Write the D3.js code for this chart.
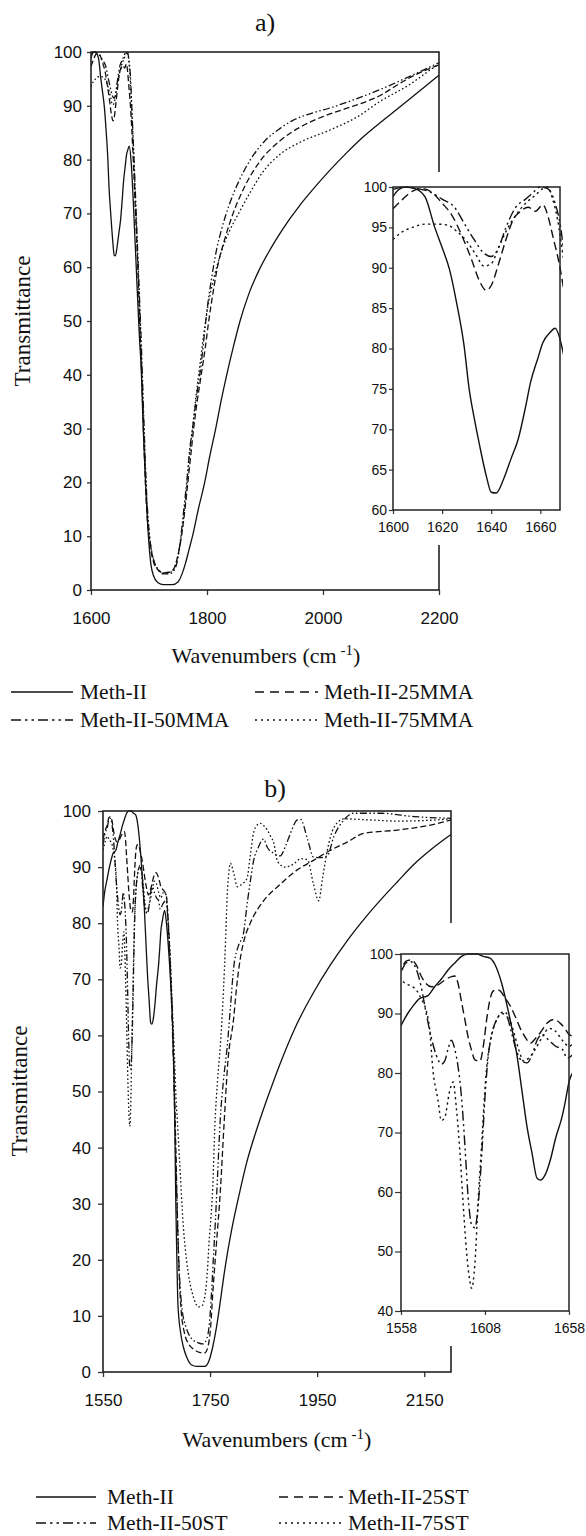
<!DOCTYPE html>
<html><head><meta charset="utf-8">
<script src="https://cdn.jsdelivr.net/npm/d3@7"></script>
<style>body{margin:0;background:#fff}</style>
</head><body>
<svg id="c" width="586" height="1536" xmlns="http://www.w3.org/2000/svg"></svg>
<script>
// ---------- DATA (wavenumber, transmittance) ----------
const A_NAMES = ["Meth-II", "Meth-II-25MMA", "Meth-II-50MMA", "Meth-II-75MMA"];
const B_NAMES = ["Meth-II", "Meth-II-25ST", "Meth-II-50ST", "Meth-II-75ST"];
const A_X_TICKS = [1600, 1800, 2000, 2200];
const B_X_TICKS = [1550, 1750, 1950, 2150];
const Y_TICKS = [0, 10, 20, 30, 40, 50, 60, 70, 80, 90, 100];
const A_INSET_X_TICKS = [1600, 1620, 1640, 1660];
const A_INSET_Y_TICKS = [60, 65, 70, 75, 80, 85, 90, 95, 100];
const B_INSET_X_TICKS = [1558, 1608, 1658];
const B_INSET_Y_TICKS = [40, 50, 60, 70, 80, 90, 100];

const A_METH_II = [[1600,98.8],[1602,99.6],[1605,100],[1609,99.8],[1613,98.8],[1617,95],[1620,92.5],[1623,89.8],[1626,85.5],[1629,80.2],[1631,75],[1633,71.5],[1635,68.4],[1638,64.2],[1640,62.2],[1642,62.1],[1645,63.8],[1648,66.3],[1651,68.8],[1654,72.8],[1656,75.8],[1659,78.8],[1661,80.7],[1664,82],[1666,82.5],[1669,79.9],[1673,72],[1678,60],[1683,48],[1687,40],[1690,30],[1694,20],[1699,10],[1703,5],[1708,2.6],[1715,1.4],[1725,1],[1740,1],[1750,1.5],[1757,3],[1763,5],[1769,7.5],[1775,10],[1785,15],[1796,20],[1805,25],[1815,30],[1824,35],[1834,40],[1845,45],[1857,50],[1872,55],[1890,59.5],[1910,63.5],[1930,67],[1960,71.5],[1983,74.5],[2010,77.8],[2041,81.3],[2070,84.3],[2100,87],[2127,89.3],[2150,91.3],[2175,93.5],[2200,95.7]];
const A_25MMA = [[1600,97.3],[1604,98.5],[1608,99.5],[1612,99.8],[1616,99.3],[1620,98],[1624,96.5],[1628,94],[1632,91],[1635,88.5],[1638,87.2],[1640,87.8],[1643,90.5],[1646,93.5],[1649,96],[1652,97],[1655,97.5],[1658,97],[1661,97.8],[1663,96.5],[1665,94],[1668,90],[1672,82],[1676,72],[1680,62],[1684,50],[1688,38],[1692,25],[1696,15],[1701,9],[1707,5.5],[1715,3.8],[1725,3.2],[1735,3.3],[1743,4],[1750,6.5],[1756,10],[1762,15],[1767,20],[1772,25],[1777,30],[1783,35],[1790,40],[1797,45],[1803,50],[1810,55],[1818,60],[1830,65],[1845,70],[1865,75],[1890,79.5],[1926,83.5],[1960,86],[2000,88],[2040,89.5],[2070,90.6],[2100,92],[2130,94],[2160,95.8],[2200,97.6]];
const A_50MMA = [[1600,99.7],[1605,100],[1610,99.8],[1615,99.4],[1620,98.5],[1625,97.5],[1629,95.5],[1633,93.5],[1637,91.8],[1640,91.4],[1643,92.5],[1646,95],[1650,97.5],[1654,98.5],[1657,99.3],[1660,100],[1663,99.8],[1666,98],[1668,95.5],[1671,88],[1675,78],[1679,67],[1683,56],[1687,45],[1691,32],[1695,20],[1700,11],[1706,6.5],[1714,4],[1725,3],[1735,3],[1744,3.8],[1750,6],[1755,10],[1760,15],[1765,20],[1770,26],[1775,30],[1782,36],[1790,42],[1796,48],[1800,52],[1808,58],[1816,63],[1825,67],[1838,71.5],[1855,76],[1875,80],[1900,83.5],[1926,85.8],[1948,87.3],[1980,88.6],[2012,89.6],[2050,91],[2098,93],[2140,95],[2184,97.2],[2200,98]];
const A_75MMA = [[1600,93.5],[1604,94.5],[1608,95],[1613,95.4],[1618,95.4],[1622,95.3],[1626,94.5],[1630,93.3],[1634,91.5],[1637,90.2],[1640,90.5],[1643,92.5],[1646,94.5],[1650,96.5],[1654,98],[1658,99],[1661,99.8],[1663,100],[1665,98.5],[1667,96],[1669,92],[1672,85],[1676,74],[1680,63],[1684,52],[1688,40],[1692,28],[1696,17],[1701,10],[1707,6],[1715,4],[1725,3.2],[1735,3.2],[1745,4.5],[1752,7.5],[1758,12],[1764,18],[1769,24],[1775,30],[1781,36],[1788,42],[1795,48],[1802,53],[1812,58],[1825,63],[1840,67],[1857,70.5],[1875,74],[1895,77.5],[1926,81],[1960,83.2],[2012,85.5],[2060,88],[2098,90.8],[2150,94],[2184,96.6],[2200,97.8]];

const B_METH_II = [[1550,83],[1553,85.5],[1558,88],[1562,90],[1565,91.2],[1569,92.5],[1574,93],[1578,94.5],[1582,95.8],[1586,97.3],[1590,98.5],[1594,99.6],[1598,100],[1603,100],[1607,99.6],[1611,99.3],[1614,98.2],[1618,95],[1621,91.5],[1624,87.5],[1627,83],[1630,77],[1633,71],[1636,66.5],[1639,62.3],[1641,62],[1644,63],[1647,65.5],[1650,69],[1654,72.8],[1656,75.5],[1658,78.5],[1661,80.5],[1665,82.3],[1668,80.5],[1672,76],[1676,70],[1680,62],[1682,55],[1684,45],[1686,30],[1688,20],[1690,12],[1695,7],[1700,4.5],[1707,2.5],[1715,1.3],[1725,1],[1740,1],[1748,2],[1755,4.5],[1762,8],[1769,12.5],[1776,17.3],[1783,21.5],[1790,25.2],[1804,31.5],[1818,37.2],[1839,43.8],[1860,49.6],[1881,55],[1910,61.6],[1943,67.6],[1975,72.6],[2007,77],[2040,81],[2069,84.2],[2100,87.4],[2131,90.5],[2165,93.3],[2200,95.8]];
const B_25ST = [[1550,95],[1554,96.5],[1558,97.5],[1561,98.8],[1564,99],[1567,98.2],[1570,96.3],[1573,95],[1576,94.5],[1580,94.8],[1584,95.6],[1588,96.2],[1590,96.3],[1592,95],[1594,92],[1596,89],[1598,86],[1600,83.8],[1602,82.2],[1605,82],[1607,84.5],[1609,89],[1611,92.4],[1613,93.8],[1615,94],[1617,93.8],[1620,92.6],[1623,91.3],[1626,89.5],[1629,87.5],[1632,86],[1635,85],[1638,85.8],[1641,86.8],[1645,88.4],[1649,89],[1653,88.3],[1656,87.3],[1658,86.5],[1662,86],[1668,85],[1672,80],[1676,72],[1680,62],[1683,52],[1686,40],[1689,28],[1692,18],[1696,11],[1702,7],[1710,5],[1720,4],[1730,3.5],[1740,3.4],[1746,4.5],[1751,8],[1755,14],[1762,23],[1769,32],[1776,44],[1783,55],[1794,63],[1800,69],[1807,74],[1815,77.5],[1825,80],[1850,84],[1876,86.5],[1913,89.5],[1943,91.2],[1975,93],[2007,94.5],[2037,96],[2100,96.6],[2162,97.5],[2200,98.4]];
const B_50ST = [[1550,94],[1554,96],[1558,97],[1561,98.5],[1564,98.7],[1567,97.5],[1570,94.5],[1573,90],[1576,86],[1579,83],[1582,81.5],[1584,82],[1586,84],[1588,85.5],[1590,84],[1592,81],[1594,76],[1596,68],[1598,59],[1600,54.5],[1602,54],[1604,58],[1606,66],[1608,76],[1610,83],[1612,86.5],[1615,89],[1618,90],[1621,89.5],[1624,86.5],[1627,83.5],[1630,82],[1633,81.7],[1636,83],[1639,85.5],[1642,86.5],[1646,85.5],[1650,84.5],[1654,84],[1657,82.5],[1662,83.5],[1668,84],[1672,79],[1676,71],[1680,60],[1683,50],[1686,38],[1689,27],[1693,17],[1698,11],[1705,8],[1715,6],[1728,5.2],[1737,5],[1744,6],[1748,8],[1752,13],[1756,20],[1760,27],[1764,35],[1769,45],[1775,52],[1782,58],[1788,65],[1794,72],[1803,76],[1812,78],[1820,84],[1826,88],[1831,91],[1840,93.5],[1850,95],[1857,93.5],[1868,92.5],[1881,92],[1892,94],[1900,96],[1913,98.4],[1919,98.5],[1932,95],[1943,91.8],[1955,91.7],[1969,92],[1981,95.4],[2000,98.4],[2018,99.6],[2069,99.6],[2131,99],[2200,98.7]];
const B_75ST = [[1550,93],[1554,94.5],[1558,95.5],[1561,95],[1564,94.6],[1567,94],[1570,92.5],[1573,90.5],[1575,87.5],[1577,80.5],[1580,75.5],[1582,72],[1584,72.5],[1587,77],[1589,78.5],[1591,74],[1593,67],[1595,58],[1597,50],[1599,45],[1600,43.8],[1602,48],[1604,59],[1606,68],[1607,73],[1609,81],[1611,85],[1613,87.5],[1616,89.5],[1619,90.3],[1622,89.5],[1625,87],[1628,84],[1631,82],[1634,82.5],[1638,84],[1642,86],[1646,87.5],[1650,87],[1654,85.5],[1658,84.5],[1663,85.5],[1668,85],[1672,80],[1676,73],[1680,64],[1684,55],[1686,49.7],[1690,43],[1693,37.8],[1700,26],[1706,20],[1712,16],[1717,14],[1722,12.5],[1728,11.6],[1735,11.8],[1741,14],[1745,18],[1748,23],[1752,28],[1755,33],[1759,44],[1764,52],[1769,58],[1775,68],[1779,77],[1782,85],[1785,89],[1788,90.7],[1794,89],[1801,86.5],[1810,87],[1819,88],[1825,92],[1831,96],[1838,97.5],[1844,97.8],[1851,97.3],[1857,96.6],[1863,95.5],[1869,94.3],[1876,91],[1890,90],[1905,90.5],[1920,91.5],[1932,91.3],[1943,87],[1953,84],[1960,88],[1969,93],[1981,97],[2000,98.6],[2050,98.4],[2100,98.2],[2150,98.3],[2200,98.6]];

// ---------- STYLES ----------
const STYLES = [
  {plot: null, legend: null},
  {plot: "6,3", legend: "9,6"},
  {plot: "7,2.5,1.5,2.5,1.5,2.5", legend: "10,4,2.5,4,2.5,4"},
  {plot: "1.6,2.4", legend: "2,4"}
];
const INK = "#111";
const SANS = "'Liberation Sans', Arial, sans-serif";
const SERIF = "'Liberation Serif', 'Times New Roman', serif";

const svg = d3.select("#c");

function drawPanel(p) {
  const g = svg.append("g");
  const m = p.main;
  const x = d3.scaleLinear().domain(p.xDomain).range([m.left, m.right]);
  const y = d3.scaleLinear().domain([0, 100]).range([m.bottom, m.top]);
  const clipId = "clip-main-" + p.id;
  svg.append("clipPath").attr("id", clipId).append("rect")
    .attr("x", m.left).attr("y", m.top - 2).attr("width", m.right - m.left + 2).attr("height", m.bottom - m.top + 2);
  const line = d3.line().x(d => x(d[0])).y(d => y(d[1])).curve(d3.curveMonotoneX);
  const lg = g.append("g").attr("clip-path", `url(#${clipId})`);
  p.series.forEach((s, i) => {
    lg.append("path").attr("d", line(s)).attr("fill", "none").attr("stroke", INK)
      .attr("stroke-width", 1.3).attr("stroke-dasharray", STYLES[i].plot);
  });
  // axes
  const ax = g.append("g").attr("transform", `translate(0,${m.bottom})`)
    .call(d3.axisBottom(x).tickValues(p.xTicks).tickSize(5).tickSizeOuter(0).tickPadding(17).tickFormat(d3.format("d")));
  const ay = g.append("g").attr("transform", `translate(${m.left},0)`)
    .call(d3.axisLeft(y).tickValues(Y_TICKS).tickSize(p.yTickSize).tickSizeOuter(0).tickPadding(p.yTickPad));
  [ax, ay].forEach(a => {
    a.select(".domain").remove();
    a.selectAll("line").attr("stroke", "#333").attr("stroke-width", 1.3);
    a.selectAll("text").attr("font-family", SANS).attr("font-size", 17).attr("fill", INK);
  });
  // frame
  g.append("rect").attr("x", m.left).attr("y", m.top).attr("width", m.right - m.left).attr("height", m.bottom - m.top)
    .attr("fill", "none").attr("stroke", "#222").attr("stroke-width", 1.6);

  // titles
  g.append("text").attr("x", p.title.x).attr("y", p.title.y).attr("text-anchor", "middle")
    .attr("font-family", SERIF).attr("font-size", 26).attr("fill", INK).text(p.title.text);
  g.append("text").attr("transform", `translate(${p.ylab.x},${p.ylab.y}) rotate(-90)`).attr("text-anchor", "middle")
    .attr("font-family", SERIF).attr("font-size", 23).attr("fill", INK).text("Transmittance");
  const xl = g.append("text").attr("x", p.xlab.x).attr("y", p.xlab.y).attr("text-anchor", "middle")
    .attr("font-family", SERIF).attr("font-size", 22).attr("fill", INK);
  xl.append("tspan").text("Wavenumbers (cm");
  xl.append("tspan").attr("dx", 4).attr("dy", -8).attr("font-size", 15).text("-1");
  xl.append("tspan").attr("dy", 8).text(")");

  // inset
  const n = p.inset;
  g.append("rect").attr("x", n.boxLeft).attr("y", n.boxTop).attr("width", 586 - n.boxLeft).attr("height", n.boxBottom - n.boxTop).attr("fill", "#fff");
  const xi = d3.scaleLinear().domain(n.xDomain).range([n.left, n.right]);
  const yi = d3.scaleLinear().domain(n.yDomain).range([n.bottom, n.top]);
  const clipI = "clip-inset-" + p.id;
  svg.append("clipPath").attr("id", clipI).append("rect")
    .attr("x", n.left).attr("y", n.top - 1).attr("width", n.right - n.left + 3).attr("height", n.bottom - n.top + 1);
  const li = d3.line().x(d => xi(d[0])).y(d => yi(d[1])).curve(d3.curveMonotoneX);
  const ig = g.append("g").attr("clip-path", `url(#${clipI})`);
  p.series.forEach((s, i) => {
    ig.append("path").attr("d", li(s)).attr("fill", "none").attr("stroke", INK)
      .attr("stroke-width", 1.4).attr("stroke-dasharray", STYLES[i].plot ? STYLES[i].plot.split(",").map(v => v * 1.4).join(",") : null);
  });
  const iax = g.append("g").attr("transform", `translate(0,${n.bottom})`)
    .call(d3.axisBottom(xi).tickValues(n.xTicks).tickSize(4).tickSizeOuter(0).tickPadding(n.xPad).tickFormat(d3.format("d")));
  const iay = g.append("g").attr("transform", `translate(${n.left},0)`)
    .call(d3.axisLeft(yi).tickValues(n.yTicks).tickSize(n.yTickSize).tickSizeOuter(0).tickPadding(n.yPad));
  [iax, iay].forEach(a => {
    a.select(".domain").remove();
    a.selectAll("line").attr("stroke", "#333").attr("stroke-width", 1.2);
    a.selectAll("text").attr("font-family", SANS).attr("font-size", 14).attr("fill", INK);
  });
  g.append("rect").attr("x", n.left).attr("y", n.top).attr("width", n.right - n.left).attr("height", n.bottom - n.top)
    .attr("fill", "none").attr("stroke", "#222").attr("stroke-width", 1.5);

  // legend
  const L = p.legend;
  p.names.forEach((name, i) => {
    const col = i % 2, row = Math.floor(i / 2);
    const x0 = L.cols[col][0], x1 = L.cols[col][1], tx = L.cols[col][2];
    const yy = L.rows[row];
    g.append("line").attr("x1", x0).attr("x2", x1).attr("y1", yy).attr("y2", yy)
      .attr("stroke", INK).attr("stroke-width", 1.6).attr("stroke-dasharray", STYLES[i].legend);
    g.append("text").attr("x", tx).attr("y", yy + 7).attr("font-family", SERIF).attr("font-size", 21.5)
      .attr("fill", INK).text(name);
  });
}

drawPanel({
  id: "a", xDomain: [1600, 2200], xTicks: A_X_TICKS,
  series: [A_METH_II, A_25MMA, A_50MMA, A_75MMA], names: A_NAMES,
  main: {left: 91, right: 439, top: 52, bottom: 590}, yTickSize: 4, yTickPad: 5,
  title: {text: "a)", x: 265, y: 31},
  ylab: {x: 30, y: 321}, xlab: {x: 266, y: 663},
  inset: {left: 393, right: 560, top: 187, bottom: 510, xDomain: [1600, 1668], yDomain: [60, 100],
          xTicks: A_INSET_X_TICKS, yTicks: A_INSET_Y_TICKS, xPad: 8, yTickSize: 4, yPad: 2,
          boxLeft: 360, boxTop: 172, boxBottom: 545},
  legend: {rows: [692, 720], cols: [[11, 73, 80], [255, 318, 324]]}
});
drawPanel({
  id: "b", xDomain: [1550, 2200], xTicks: B_X_TICKS,
  series: [B_METH_II, B_25ST, B_50ST, B_75ST], names: B_NAMES,
  main: {left: 103, right: 451, top: 811, bottom: 1372}, yTickSize: 5, yTickPad: 7,
  title: {text: "b)", x: 275, y: 797},
  ylab: {x: 27, y: 1091}, xlab: {x: 277, y: 1447},
  inset: {left: 401, right: 569, top: 954, bottom: 1311, xDomain: [1558, 1658], yDomain: [40, 100],
          xTicks: B_INSET_X_TICKS, yTicks: B_INSET_Y_TICKS, xPad: 8, yTickSize: 6, yPad: 2,
          boxLeft: 365, boxTop: 923, boxBottom: 1346},
  legend: {rows: [1497, 1523], cols: [[36, 96, 107], [279, 343, 348]]}
});
</script>
</body></html>
